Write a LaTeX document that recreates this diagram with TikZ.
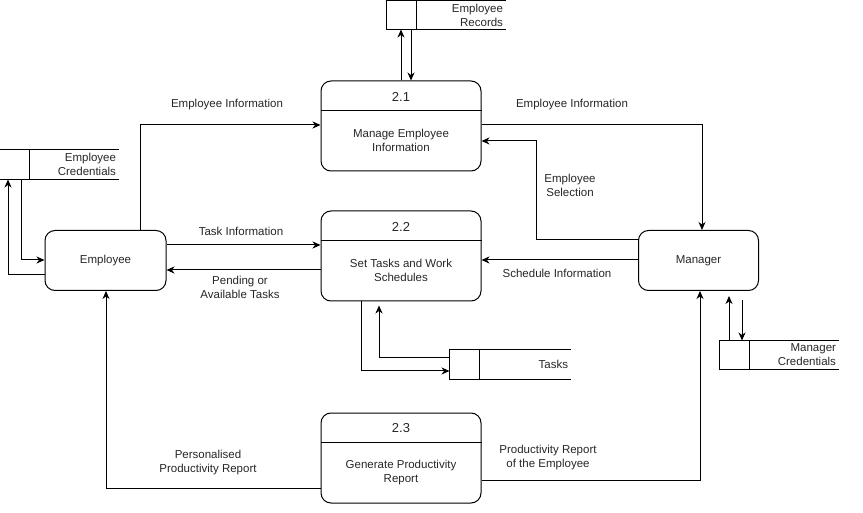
\documentclass[tikz,border=0pt]{standalone}
\usepackage{fontspec}
\setmainfont{Liberation Sans}
\usetikzlibrary{arrows.meta,calc}
\begin{document}
\begin{tikzpicture}[x=1pt,y=-1pt,
  font=\fontsize{11.5}{14}\selectfont,
  line width=1pt,
  >={Stealth[length=8pt,width=7pt,inset=2.5pt]},
  proc/.style={draw,rounded corners=10pt,minimum width=160pt,minimum height=90pt,inner sep=0pt},
  ent/.style={draw,rounded corners=10pt,inner sep=0pt},
  storebox/.style={draw=none,inner sep=0pt},
  lbl/.style={align=center,inner sep=0pt,text=black!85},
  stxt/.style={align=right,inner sep=0pt,anchor=east,text=black!85}]
\useasboundingbox (0,0) rectangle (863,513);

% entities
\node[ent,minimum width=121pt,minimum height=60pt,text=black!85] (emp) at (105.5,260.5) {Employee};
\node[ent,minimum width=120pt,minimum height=60pt,text=black!85] (mgr) at (698.5,260.5) {Manager};

% processes
\node[proc] (p1) at (401,126) {};
\node[proc] (p2) at (401,256) {};
\node[proc] (p3) at (401,458) {};
\foreach \p/\n/\t in {p1/2.1/{Manage Employee\\Information},p2/2.2/{Set Tasks and Work\\Schedules},p3/2.3/{Generate Productivity\\Report}}{
  \draw ($(\p.north west)+(0,30)$) -- ($(\p.north east)+(0,30)$);
  \node[lbl,font=\fontsize{13}{15}\selectfont] (\p num) at ($(\p.north)+(0,16)$) {\n};
  \node[lbl] (\p txt) at ($(\p.north)+(0,60)$) {\t};
}

% data stores
\node[storebox,minimum width=118pt,minimum height=28pt] (ds1) at (446,15) {};
\node[storebox,minimum width=118pt,minimum height=29pt] (ds2) at (59,164.5) {};
\node[storebox,minimum width=120pt,minimum height=29pt] (ds3) at (510,364.5) {};
\node[storebox,minimum width=118pt,minimum height=28pt] (ds4) at (779,355) {};
\foreach \d in {ds1,ds2,ds3,ds4}{
  \draw (\d.north east) -- (\d.north west) -- (\d.south west) -- (\d.south east);
  \draw ($(\d.north west)+(30,0)$) -- ($(\d.south west)+(30,0)$);
}
\node[stxt] (ds1t) at ($(ds1.east)+(-2,0)$) {Employee\\Records};
\node[stxt] (ds2t) at ($(ds2.east)+(-2,0)$) {Employee\\Credentials};
\node[stxt] (ds3t) at ($(ds3.east)+(-2,0)$) {Tasks};
\node[stxt] (ds4t) at ($(ds4.east)+(-2,0)$) {Manager\\Credentials};

% bend coordinates
\coordinate (b1) at (140,125);
\coordinate (b2) at (702,125);
\coordinate (b3) at (536,141);
\coordinate (b4) at (8,275);
\coordinate (b5) at (21,260);
\coordinate (b6) at (361,371);
\coordinate (b7) at (379,358);
\coordinate (b8) at (106,488);
\coordinate (b9) at (700,480);
\coordinate (m1) at (729,300);
\coordinate (m2) at (742,300);

% Employee Records arrows
\draw[->] (p1.north -| 401,0) -- (ds1.south -| 401,0);
\draw[->] (ds1.south -| 411,0) -- (p1.north -| 411,0);

% Employee credentials
\draw[->] (emp.west |- b4) -- (b4) -- (b4 |- ds2.south);
\draw[->] (b5 |- ds2.south) -- (b5) -- (emp.west |- b5);

% Manager credentials
\draw[->] (ds4.north -| m1) -- ($(m1)+(0,-4)$);
\draw[->] (m2) -- (ds4.north -| m2);

% Employee -> 2.1
\draw[->] (emp.north -| b1) -- (b1) -- (p1.west |- b1);
\node[lbl] (l1) at (227,105) {Employee Information};
% 2.1 -> Manager
\draw[->] (p1.east |- b2) -- (b2) -- (mgr.north -| b2);
\node[lbl] (l2) at (572,105) {Employee Information};
% Manager -> 2.1
\draw[->] (mgr.west |- 0,240) -- (b3 |- 0,240) -- (b3) -- (p1.east |- b3);
\node[lbl] (l3) at (570,185) {Employee\\Selection};
% Employee <-> 2.2
\draw[->] (emp.east |- 0,245) -- (p2.west |- 0,245);
\node[lbl] (l4) at (241,231) {Task Information};
\draw[->] (p2.west |- 0,270) -- (emp.east |- 0,270);
\node[lbl] (l5) at (240,287) {Pending or\\Available Tasks};
% Manager -> 2.2
\draw[->] (mgr.west |- 0,260) -- (p2.east |- 0,260);
\node[lbl] (l6) at (557,273) {Schedule Information};
% 2.2 <-> Tasks
\draw[->] (p2.south -| b6) -- (b6) -- (ds3.west |- b6);
\draw[->] (ds3.west |- b7) -- (b7) -- ($(p2.south -| b7)+(0,4)$);
% 2.3 -> Employee
\draw[->] (p3.west |- b8) -- (b8) -- (emp.south -| b8);
\node[lbl] (l7) at (208,463) {Personalised\\Productivity Report};
% 2.3 -> Manager
\draw[->] (p3.east |- b9) -- (b9) -- (mgr.south -| b9);
\node[lbl] (l8) at (548,458) {Productivity Report\\of the Employee};
\end{tikzpicture}
\end{document}
